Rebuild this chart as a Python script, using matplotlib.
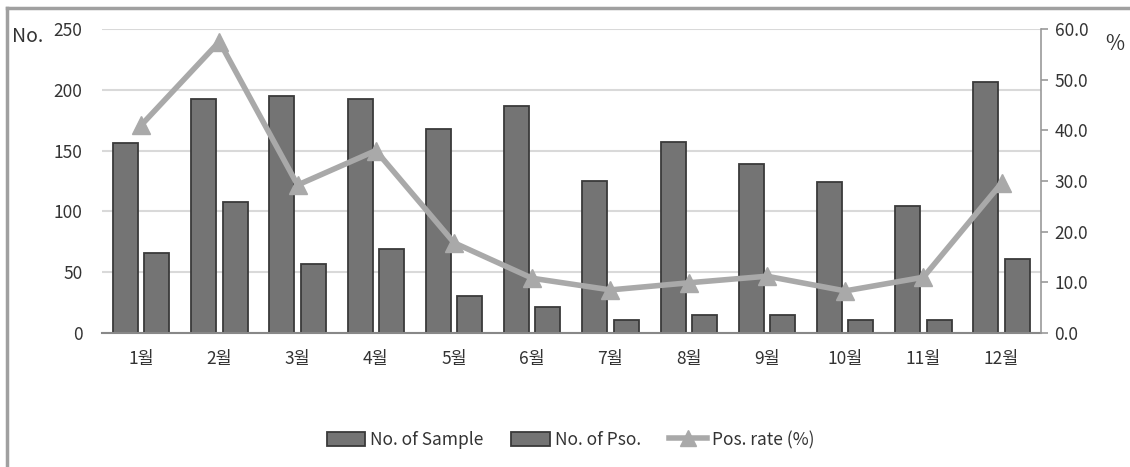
import matplotlib.pyplot as plt
from matplotlib.lines import Line2D
from matplotlib.patches import Patch
import numpy as np

# 월별 데이터
months = ["1월", "2월", "3월", "4월", "5월", "6월", "7월", "8월", "9월", "10월", "11월", "12월"]
n_sample = [156, 192, 195, 192, 168, 187, 125, 157, 139, 124, 104, 206]
n_pos = [66, 108, 57, 69, 30, 21, 11, 15, 15, 11, 11, 61]
pos_rate = [41.0, 57.5, 29.2, 36.0, 17.8, 10.8, 8.5, 9.9, 11.2, 8.3, 11.0, 29.6]

plt.rcParams["font.family"] = ["Noto Sans CJK KR", "DejaVu Sans"]

bar_face = "#747474"
bar_edge = "#3a3a3a"
line_col = "#a9a9a9"
grid_col = "#d9d9d9"
text_col = "#333333"
fs = 12.5

fig = plt.figure(figsize=(11.3, 4.67), dpi=100)
ax = fig.add_axes([0.0903, 0.287, 0.8307, 0.651])
ax2 = ax.twinx()

x = np.arange(len(months))
w = 0.32
ax.bar(x - 0.2, n_sample, width=w, color=bar_face, edgecolor=bar_edge, linewidth=1.3, zorder=2)
ax.bar(x + 0.2, n_pos, width=w, color=bar_face, edgecolor=bar_edge, linewidth=1.3, zorder=2)

ax2.plot(x, pos_rate, color=line_col, linewidth=4, marker="^", markersize=13,
         markerfacecolor=line_col, markeredgecolor=line_col, zorder=3)

# 왼쪽 축
ax.set_xlim(-0.5, len(months) - 0.5)
ax.set_ylim(0, 250)
ax.set_yticks(range(0, 251, 50))
ax.tick_params(axis="y", length=0, pad=14, labelsize=fs, labelcolor=text_col)
ax.set_xticks(x)
ax.set_xticklabels(months)
ax.tick_params(axis="x", length=0, pad=12, labelsize=fs, labelcolor=text_col)
ax.yaxis.grid(True, color=grid_col, linewidth=1.5, zorder=0)
ax.set_axisbelow(True)

# 오른쪽 축
ax2.set_ylim(0, 60)
ax2.set_yticks(np.arange(0, 61, 10))
ax2.set_yticklabels([f"{v:.1f}" for v in np.arange(0, 61, 10)])
ax2.tick_params(axis="y", length=5, width=1.2, color="#999999", pad=5, labelsize=fs, labelcolor=text_col)

for a in (ax, ax2):
    a.spines["top"].set_visible(False)
    a.spines["left"].set_visible(False)
ax.spines["right"].set_visible(False)
ax2.spines["right"].set_color("#999999")
ax2.spines["right"].set_linewidth(1.2)
ax.spines["bottom"].set_color("#888888")
ax.spines["bottom"].set_linewidth(1.5)
ax2.spines["bottom"].set_visible(False)

fig.text(0.011, 0.922, "No.", fontsize=14, color=text_col, ha="left", va="center")
fig.text(0.978, 0.905, "%", fontsize=15, color=text_col, ha="left", va="center")

# 바깥 테두리
fig.add_artist(Line2D([0.006, 1.0], [0.983, 0.983], color="#a0a0a0", linewidth=2.5))
fig.add_artist(Line2D([0.006, 0.006], [0.0, 0.983], color="#a0a0a0", linewidth=2.5))

handles = [
    Patch(facecolor=bar_face, edgecolor=bar_edge, linewidth=1.3),
    Patch(facecolor=bar_face, edgecolor=bar_edge, linewidth=1.3),
    Line2D([0], [0], color=line_col, linewidth=4, marker="^", markersize=11,
           markerfacecolor=line_col, markeredgecolor=line_col),
]
fig.legend(handles, ["No. of Sample", "No. of Pso.", "Pos. rate (%)"],
           loc="center", bbox_to_anchor=(0.505, 0.058), ncol=3, frameon=False,
           fontsize=fs, handlelength=2.2, handleheight=0.9, columnspacing=1.6,
           handletextpad=0.3, labelcolor=text_col)

fig.savefig("out.png", dpi=100)
